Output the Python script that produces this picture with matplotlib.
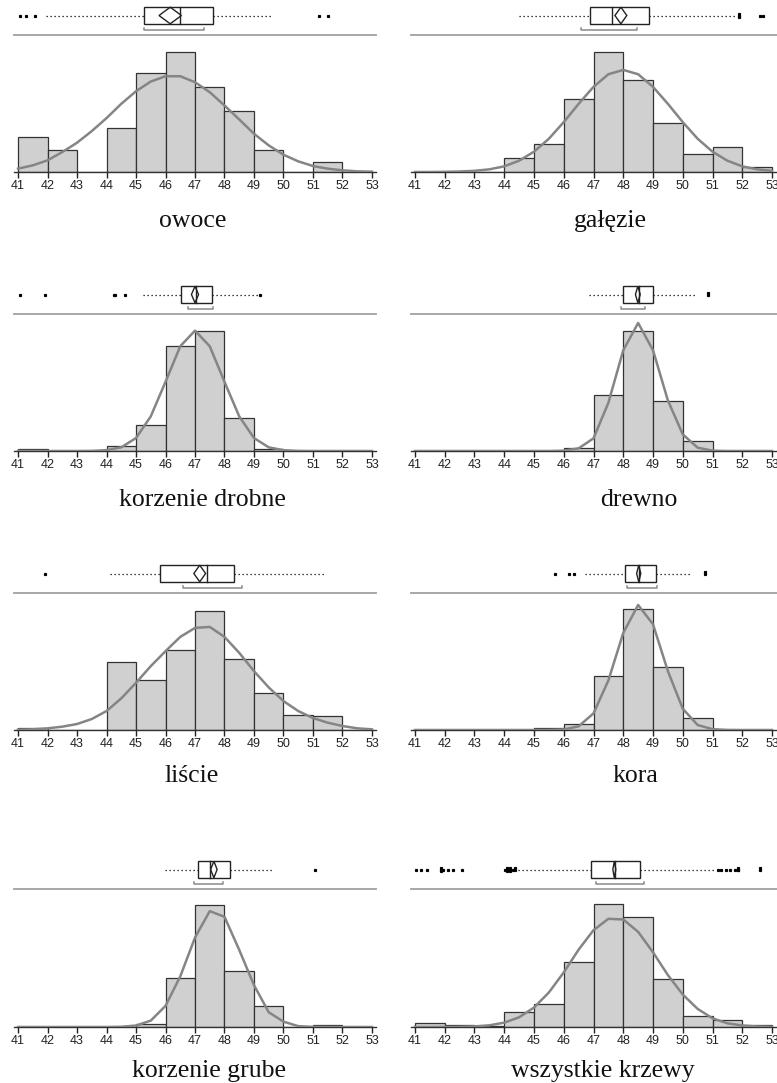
import numpy as np
import matplotlib
matplotlib.use("Agg")
import matplotlib.pyplot as plt
from matplotlib.patches import Polygon, Rectangle

# histogram bins 41-42 ... 52-53, heights (same scale in all panels)
bin_edges = list(range(41, 54))
curve_x = [41 + 0.5 * i for i in range(25)]

owoce_bars = [105, 65, 0, 132, 297, 360, 257, 182, 66, 0, 29, 0]
galezie_bars = [0, 0, 0, 43, 83, 220, 362, 278, 146, 55, 75, 16]
drobne_bars = [7, 0, 0, 15, 77, 317, 362, 98, 6, 0, 0, 0]
drewno_bars = [0, 0, 0, 0, 0, 8, 167, 362, 151, 29, 0, 0]
liscie_bars = [6, 0, 0, 203, 151, 242, 359, 214, 111, 46, 41, 0]
kora_bars = [0, 0, 0, 0, 6, 17, 163, 364, 189, 37, 0, 0]
grube_bars = [0, 0, 0, 0, 10, 147, 364, 167, 64, 0, 6, 0]
wszystkie_bars = [13, 6, 2, 46, 68, 193, 367, 327, 143, 33, 22, 6]

# fitted density curves, read at 41, 41.5, ..., 53
owoce_curve = [10, 20, 35, 60, 88, 123, 162, 205, 243, 272, 288, 288, 270,
               240, 200, 158, 115, 80, 52, 32, 18, 10, 5, 2, 1]
galezie_curve = [0, 0, 0.5, 1.5, 3.5, 8, 17, 34, 61, 100, 150, 205, 256,
                 294, 307, 294, 256, 205, 150, 100, 61, 34, 17, 8, 3.5]
drobne_curve = [0, 0, 0, 0, 0, 0.4, 2.5, 11, 39, 104, 208, 315, 362,
                315, 208, 104, 39, 11, 2.5, 0.4, 0, 0, 0, 0, 0]
drewno_curve = [0, 0, 0, 0, 0, 0, 0, 0, 0, 0, 1, 8, 38,
                145, 303, 385, 303, 152, 50, 10, 1, 0, 0, 0, 0]
liscie_curve = [1, 2, 5, 10, 18, 33, 57, 95, 142, 192, 237, 280, 307,
                310, 280, 232, 177, 128, 87, 57, 36, 22, 12, 5, 2]
kora_curve = [0, 0, 0, 0, 0, 0, 0, 0, 0, 0.3, 1.6, 11, 50,
              149, 292, 376, 318, 177, 64, 15, 2.4, 0.3, 0, 0, 0]
grube_curve = [0, 0, 0, 0, 0, 0, 0, 0.7, 4.3, 19, 63, 151, 267,
               346, 329, 230, 125, 44, 16, 2.5, 0.4, 0, 0, 0, 0]
wszystkie_curve = [0, 0, 0.1, 0.5, 1.8, 5, 13, 29, 58, 103, 163, 231, 289,
                   323, 321, 284, 223, 155, 97, 54, 26, 11, 4.5, 1.5, 0.5]

# outlier box plots: whisker low, q1, median, q3, whisker high
owoce_box = [41.96, 45.27, 46.49, 47.61, 49.62]
galezie_box = [44.49, 46.88, 47.63, 48.87, 51.82]
drobne_box = [45.24, 46.54, 47.03, 47.56, 49.20]
drewno_box = [46.85, 47.98, 48.54, 48.99, 50.47]
liscie_box = [44.12, 45.80, 47.40, 48.31, 51.45]
kora_box = [46.72, 48.05, 48.54, 49.09, 50.25]
grube_box = [45.97, 47.11, 47.50, 48.20, 49.68]
wszystkie_box = [44.47, 46.90, 47.71, 48.57, 51.08]

# mean and half-width of mean confidence diamond
owoce_mean = [46.16, 0.38]
galezie_mean = [47.92, 0.20]
drobne_mean = [47.00, 0.12]
drewno_mean = [48.49, 0.08]
liscie_mean = [47.16, 0.20]
kora_mean = [48.52, 0.07]
grube_mean = [47.64, 0.11]
wszystkie_mean = [47.70, 0.05]

# shortest half bracket
owoce_short = [45.27, 47.29]
galezie_short = [46.58, 48.45]
drobne_short = [46.75, 47.62]
drewno_short = [47.91, 48.74]
liscie_short = [46.59, 48.61]
kora_short = [48.13, 49.13]
grube_short = [46.97, 47.96]
wszystkie_short = [47.09, 48.71]

owoce_out = [41.08, 41.28, 41.56, 51.19, 51.51]
galezie_out = [51.89, 51.89, 51.89, 52.60, 52.70]
drobne_out = [41.06, 41.93, 44.24, 44.30, 44.63, 49.20]
drewno_out = [50.84, 50.84]
liscie_out = [41.90]
kora_out = [45.71, 46.18, 46.33, 50.75, 50.75]
grube_out = [51.08]
wszystkie_out = [41.02, 41.19, 41.42, 41.87, 41.87, 41.87, 41.95, 42.12, 42.29, 42.57,
                 44.02, 44.10, 44.10, 44.10, 44.20, 44.20, 44.20, 44.28, 44.35, 44.35,
                 51.20, 51.30, 51.45, 51.60, 51.75, 51.85, 51.87, 51.87, 52.60, 52.60]

names = ["owoce", "gałęzie", "korzenie drobne", "drewno",
         "liście", "kora", "korzenie grube", "wszystkie krzewy"]
bars = [owoce_bars, galezie_bars, drobne_bars, drewno_bars,
        liscie_bars, kora_bars, grube_bars, wszystkie_bars]
curves = [owoce_curve, galezie_curve, drobne_curve, drewno_curve,
          liscie_curve, kora_curve, grube_curve, wszystkie_curve]
boxes = [owoce_box, galezie_box, drobne_box, drewno_box,
         liscie_box, kora_box, grube_box, wszystkie_box]
means = [owoce_mean, galezie_mean, drobne_mean, drewno_mean,
         liscie_mean, kora_mean, grube_mean, wszystkie_mean]
shorts = [owoce_short, galezie_short, drobne_short, drewno_short,
          liscie_short, kora_short, grube_short, wszystkie_short]
outs = [owoce_out, galezie_out, drobne_out, drewno_out,
        liscie_out, kora_out, grube_out, wszystkie_out]

# layout in pixels
W, H = 777, 1083
col_x = [(13.6, 376.4), (410.5, 776.5)]
row_base = [172, 451, 730, 1027]
row_sep = [35, 314, 593, 889]
title_x = [193, 610, 202, 639, 192, 635, 209, 603]
title_y = [227, 227, 506, 506, 782, 782, 1077, 1077]


def rect(x0, y0, x1, y1):
    return [x0 / W, 1 - y1 / H, (x1 - x0) / W, (y1 - y0) / H]


fig = plt.figure(figsize=(W / 100, H / 100), dpi=100)

for i, name in enumerate(names):
    row, col = i // 2, i % 2
    x0, x1 = col_x[col]
    base, sep = row_base[row], row_sep[row]

    # histogram
    ax = fig.add_axes(rect(x0, sep, x1, base))
    ax.bar(bin_edges[:-1], bars[i], width=1, align='edge',
           color='#d0d0d0', edgecolor='#333333', linewidth=0.9, zorder=2)
    ax.plot(curve_x, curves[i], color='#858585', linewidth=1.8, zorder=3,
            solid_joinstyle='round')
    ax.set_xlim(40.85, 53.15)
    ax.set_ylim(0, 412)
    ax.set_xticks(bin_edges)
    ax.tick_params(axis='x', direction='out', length=4, width=1, pad=1.5,
                   labelsize=9, colors='#222222')
    for lab in ax.get_xticklabels():
        lab.set_fontfamily('Liberation Sans')
    ax.set_yticks([])
    ax.spines['left'].set_visible(False)
    ax.spines['right'].set_visible(False)
    ax.spines['bottom'].set_color('#333333')
    ax.spines['bottom'].set_linewidth(1)
    ax.spines['top'].set_color('#a0a0a0')
    ax.spines['top'].set_linewidth(1.3)
    ax.set_facecolor('none')

    # outlier box plot strip
    bx = fig.add_axes(rect(x0, sep - 35, x1, sep))
    bx.set_xlim(40.85, 53.15)
    bx.set_ylim(0, 35)
    bx.axis('off')
    wl, q1, med, q3, wh = boxes[i]
    yc, hh = 19.5, 8.3
    dots = dict(color='black', linewidth=0.9, linestyle=(0, (1, 2.2)))
    bx.plot([wl, q1], [yc, yc], **dots)
    bx.plot([q3, wh], [yc, yc], **dots)
    bx.add_patch(Rectangle((q1, yc - hh), q3 - q1, 2 * hh, facecolor='white',
                           edgecolor='#222222', linewidth=1, zorder=3))
    bx.plot([med, med], [yc - hh, yc + hh], color='#222222', linewidth=1, zorder=4)
    m, ci = means[i]
    bx.add_patch(Polygon([(m - ci, yc), (m, yc + hh), (m + ci, yc), (m, yc - hh)],
                         closed=True, fill=False, edgecolor='#222222',
                         linewidth=1, zorder=5))
    s0, s1 = shorts[i]
    bx.plot([s0, s0, s1, s1], [7.2, 5, 5, 7.2], color='#8a8a8a', linewidth=1.1)
    seen = {}
    jit = [0, 1.6, -1.6, 3.2, -3.2]
    for v in outs[i]:
        k = seen.get(v, 0)
        seen[v] = k + 1
        bx.plot([v], [yc + jit[k % 5]], marker='s', markersize=1.3,
                color='black', linestyle='none')

    fig.text(title_x[i] / W, 1 - title_y[i] / H, name, ha='center', va='baseline',
             fontsize=18.5, family='Liberation Serif', color='#111111')

fig.savefig('out.png', dpi=100, facecolor='white')
